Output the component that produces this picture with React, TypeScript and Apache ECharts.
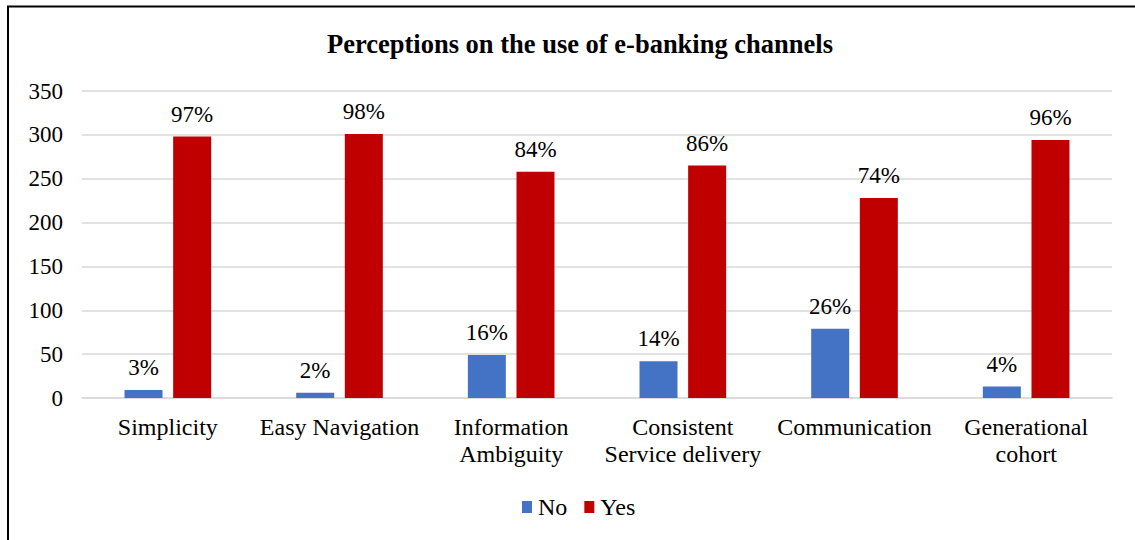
import React, { useEffect, useRef } from "react";
import * as echarts from "echarts";

const categories = [
  "Simplicity",
  "Easy Navigation",
  "Information\nAmbiguity",
  "Consistent\nService delivery",
  "Communication",
  "Generational\ncohort",
];
const noValues = [9, 6, 49, 42, 79, 13];
const yesValues = [298, 301, 258, 265, 228, 294];
const noLabels = ["3%", "2%", "16%", "14%", "26%", "4%"];
const yesLabels = ["97%", "98%", "84%", "86%", "74%", "96%"];
const seriesNames = ["No", "Yes"];
const titleText = "Perceptions on the use of e-banking channels";

const FONT = "'Liberation Serif', 'Times New Roman', serif";

export default function App() {
  const ref = useRef<HTMLDivElement>(null);
  useEffect(() => {
    if (!ref.current) return;
    const chart = echarts.init(ref.current, undefined, { renderer: "svg" });
    const labelStyle = (labels: string[]) => ({
      show: true,
      position: "top",
      distance: 11,
      fontFamily: FONT,
      fontSize: 23,
      color: "#000",
      formatter: (p: any) => labels[p.dataIndex],
    });
    chart.setOption({
      animation: false,
      backgroundColor: "#fff",
      title: {
        text: titleText,
        left: 575,
        top: 25,
        textAlign: "center",
        textStyle: { fontFamily: FONT, fontSize: 26.5, fontWeight: "bold", color: "#000" },
      },
      grid: { left: 82, right: 23, top: 91, bottom: 142, containLabel: false },
      legend: {
        data: seriesNames,
        bottom: 16,
        left: 517,
        itemWidth: 10,
        itemHeight: 12,
        itemGap: 17,
        icon: "rect",
        textStyle: { fontFamily: FONT, fontSize: 24, color: "#000", padding: [0, 0, 0, 1] },
      },
      xAxis: {
        type: "category",
        data: categories,
        axisLine: { lineStyle: { color: "#d9d9d9", width: 1.5 } },
        axisTick: { show: false },
        axisLabel: {
          interval: 0,
          margin: 15,
          fontFamily: FONT,
          fontSize: 24,
          lineHeight: 27,
          color: "#000",
        },
      },
      yAxis: {
        type: "value",
        min: 0,
        max: 350,
        interval: 50,
        axisLine: { show: false },
        axisTick: { show: false },
        splitLine: { lineStyle: { color: "#d9d9d9", width: 1.5 } },
        axisLabel: { margin: 19, fontFamily: FONT, fontSize: 23, color: "#000" },
      },
      graphic: [
        { type: "line", shape: { x1: 7, y1: 6.5, x2: 1135, y2: 6.5 }, style: { stroke: "#000", lineWidth: 2 } },
        { type: "line", shape: { x1: 8, y1: 6, x2: 8, y2: 540 }, style: { stroke: "#000", lineWidth: 2 } },
      ],
      series: [
        {
          name: seriesNames[0],
          type: "bar",
          data: noValues,
          barWidth: 38,
          barGap: "28%",
          itemStyle: { color: "#4472C4" },
          label: labelStyle(noLabels),
        },
        {
          name: seriesNames[1],
          type: "bar",
          data: yesValues,
          barWidth: 38,
          barGap: "28%",
          itemStyle: { color: "#C00000" },
          label: labelStyle(yesLabels),
        },
      ],
    });
    return () => chart.dispose();
  }, []);
  return (
    <div
      ref={ref}
      style={{ position: "absolute", left: 0, top: 0, width: 1135, height: 540 }}
    />
  );
}
